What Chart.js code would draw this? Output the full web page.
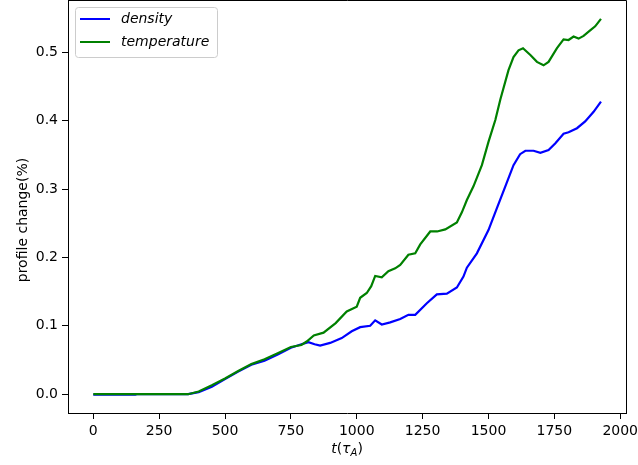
<!DOCTYPE html>
<html>
<head>
<meta charset="utf-8">
<script src="https://cdn.jsdelivr.net/npm/chart.js@4/dist/chart.umd.min.js"></script>
<style>
    body { margin: 0; background: #fff; }
    #wrap { width: 638px; height: 465px; }
</style>
</head>
<body>
<div id="wrap"><canvas id="profile-chart" width="638" height="465"></canvas></div>
<script>
// Profile change over time, in units of tau_A
const densityTimes = [0, 160, 165, 360, 400, 450, 500, 550, 600, 650, 700, 750, 790, 817, 840, 861, 899, 943, 981, 1013, 1051, 1070, 1095, 1127, 1165, 1196, 1222, 1266, 1304, 1342, 1380, 1405, 1418, 1456, 1500, 1532, 1564, 1595, 1620, 1640, 1671, 1697, 1728, 1754, 1785, 1804, 1836, 1867, 1899, 1927];
const densityValues = [-0.0005, -0.0005, 0, 0, 0.003, 0.011, 0.022, 0.033, 0.043, 0.049, 0.058, 0.068, 0.073, 0.076, 0.073, 0.071, 0.075, 0.082, 0.092, 0.098, 0.100, 0.108, 0.102, 0.105, 0.110, 0.116, 0.116, 0.133, 0.146, 0.147, 0.156, 0.172, 0.185, 0.206, 0.240, 0.272, 0.304, 0.335, 0.351, 0.356, 0.356, 0.353, 0.357, 0.367, 0.381, 0.383, 0.389, 0.399, 0.413, 0.428];

const temperatureTimes = [0, 360, 400, 450, 500, 550, 600, 650, 700, 750, 790, 810, 837, 874, 920, 962, 1000, 1013, 1038, 1055, 1070, 1095, 1120, 1146, 1165, 1196, 1222, 1241, 1279, 1305, 1336, 1380, 1399, 1418, 1443, 1475, 1500, 1526, 1545, 1576, 1595, 1614, 1631, 1659, 1684, 1709, 1728, 1760, 1785, 1804, 1823, 1842, 1861, 1886, 1905, 1927];
const temperatureValues = [0, 0, 0.004, 0.013, 0.023, 0.034, 0.044, 0.051, 0.060, 0.069, 0.072, 0.077, 0.086, 0.090, 0.104, 0.121, 0.128, 0.141, 0.148, 0.158, 0.173, 0.171, 0.180, 0.184, 0.189, 0.204, 0.206, 0.219, 0.238, 0.238, 0.241, 0.251, 0.266, 0.284, 0.304, 0.335, 0.369, 0.401, 0.431, 0.474, 0.493, 0.503, 0.506, 0.496, 0.486, 0.481, 0.486, 0.506, 0.519, 0.518, 0.523, 0.520, 0.524, 0.532, 0.538, 0.549];

const xTicks = [0, 250, 500, 750, 1000, 1250, 1500, 1750, 2000];
const yTicks = [0.0, 0.1, 0.2, 0.3, 0.4, 0.5];

const FONT = 'DejaVu Sans';

function toPoints(times, values) {
    return times.map((t, i) => ({ x: t, y: values[i] }));
}

// Frame, axis titles and the legend box are drawn by hand
const decorPlugin = {
    id: 'decor',
    afterDraw(chart) {
        const { ctx, chartArea: a } = chart;
        ctx.save();

        // top and right spines
        ctx.strokeStyle = '#000';
        ctx.lineWidth = 1;
        ctx.beginPath();
        ctx.moveTo(a.left, a.top + 0.5);
        ctx.lineTo(a.right + 0.5, a.top + 0.5);
        ctx.lineTo(a.right + 0.5, a.bottom);
        ctx.stroke();

        // y axis title
        ctx.fillStyle = '#000';
        ctx.font = '14px "' + FONT + '"';
        ctx.textAlign = 'center';
        ctx.textBaseline = 'middle';
        ctx.translate(23, 220);
        ctx.rotate(-Math.PI / 2);
        ctx.fillText('profile change(%)', 0, 0);
        ctx.setTransform(1, 0, 0, 1, 0, 0);

        // x axis title: t(τ_A)
        const main = 'italic 14px "' + FONT + '"';
        const upright = '14px "' + FONT + '"';
        const sub = 'italic 10px "' + FONT + '"';
        const parts = [
            { s: 't', f: main, dy: 0 },
            { s: '(', f: upright, dy: 0 },
            { s: 'τ', f: main, dy: 0 },
            { s: 'A', f: sub, dy: 3 },
            { s: ')', f: upright, dy: 0 }
        ];
        let total = 0;
        parts.forEach(p => { ctx.font = p.f; p.w = ctx.measureText(p.s).width; total += p.w; });
        let x = (a.left + a.right) / 2 - total / 2;
        ctx.textAlign = 'left';
        ctx.textBaseline = 'alphabetic';
        parts.forEach(p => {
            ctx.font = p.f;
            ctx.fillText(p.s, x, 453 + p.dy);
            x += p.w;
        });

        // legend
        const lx = 75, ly = 7, lw = 142, lh = 50;
        ctx.fillStyle = 'rgba(255,255,255,0.8)';
        ctx.strokeStyle = '#cccccc';
        ctx.lineWidth = 1;
        ctx.beginPath();
        ctx.roundRect(lx + 0.5, ly + 0.5, lw, lh, 3);
        ctx.fill();
        ctx.stroke();

        const entries = [
            { label: chart.data.datasets[0].label, color: chart.data.datasets[0].borderColor, y: 19 },
            { label: chart.data.datasets[1].label, color: chart.data.datasets[1].borderColor, y: 42 }
        ];
        ctx.font = main;
        ctx.textBaseline = 'middle';
        entries.forEach(e => {
            ctx.strokeStyle = e.color;
            ctx.lineWidth = 2;
            ctx.beginPath();
            ctx.moveTo(80, e.y);
            ctx.lineTo(110, e.y);
            ctx.stroke();
            ctx.fillStyle = '#000';
            ctx.fillText(e.label, 121, e.y);
        });

        ctx.restore();
    }
};

const ctx = document.getElementById('profile-chart').getContext('2d');

new Chart(ctx, {
    type: 'line',
    data: {
        datasets: [
            {
                label: 'density',
                data: toPoints(densityTimes, densityValues),
                borderColor: '#0000ff',
                borderWidth: 2.2,
                pointRadius: 0,
                tension: 0,
                fill: false,
                order: 1
            },
            {
                label: 'temperature',
                data: toPoints(temperatureTimes, temperatureValues),
                borderColor: '#008000',
                borderWidth: 2.2,
                pointRadius: 0,
                tension: 0,
                fill: false,
                order: 0
            }
        ]
    },
    options: {
        responsive: false,
        animation: false,
        layout: {
            padding: { top: 0, right: 12, left: 0, bottom: 0 }
        },
        plugins: {
            legend: { display: false },
            tooltip: { enabled: false }
        },
        scales: {
            x: {
                type: 'linear',
                min: -96,
                max: 2022,
                afterBuildTicks: scale => { scale.ticks = xTicks.map(v => ({ value: v })); },
                afterFit: scale => {
                    scale.height = 52;
                    scale.paddingLeft = 0;
                    scale.paddingRight = 0;
                },
                border: { display: true, color: '#000', width: 1 },
                grid: { display: true, drawOnChartArea: false, drawTicks: true, tickLength: 6, color: '#000' },
                ticks: {
                    padding: 4,
                    color: '#000',
                    font: { family: FONT, size: 14 },
                    maxRotation: 0,
                    callback: v => String(v)
                }
            },
            y: {
                type: 'linear',
                min: -0.0275,
                max: 0.5765,
                afterBuildTicks: scale => { scale.ticks = yTicks.map(v => ({ value: v })); },
                afterFit: scale => {
                    scale.width = 68;
                    scale.paddingTop = 0;
                    scale.paddingBottom = 0;
                },
                border: { display: true, color: '#000', width: 1 },
                grid: { display: true, drawOnChartArea: false, drawTicks: true, tickLength: 6, color: '#000' },
                ticks: {
                    padding: 4,
                    color: '#000',
                    font: { family: FONT, size: 14 },
                    callback: v => v.toFixed(1)
                }
            }
        }
    },
    plugins: [decorPlugin]
});
</script>
</body>
</html>
